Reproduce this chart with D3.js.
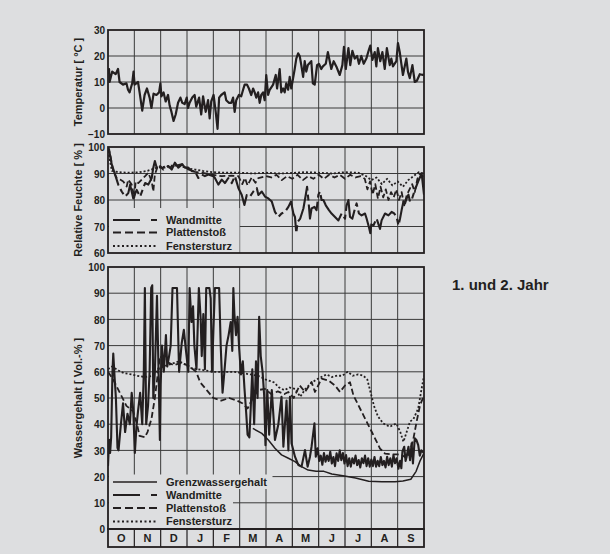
<!DOCTYPE html>
<html>
<head>
<meta charset="utf-8">
<script src="https://cdn.jsdelivr.net/npm/d3@7"></script>
<style>
html,body{margin:0;padding:0;background:#dddee0;}
svg{display:block;}
text{font-family:"Liberation Sans",Arial,Helvetica,sans-serif;font-weight:bold;fill:#231f20;}
</style>
</head>
<body>
<svg id="chart" width="610" height="554"></svg>
<script>
// ---------- DATA ----------
const monthLabels = ["O","N","D","J","F","M","A","M","J","J","A","S"];
const tempTicks = [-10,0,10,20,30];
const humTicks = [60,70,80,90,100];
const waterTicks = [0,10,20,30,40,50,60,70,80,90,100];
const titleTemp = "Temperatur [ °C ]";
const titleHum = "Relative Feuchte  [ % ]";
const titleWater = "Wassergehalt  [ Vol.-% ]";
const sideNote = "1. und 2. Jahr";
const legendHum = ["Wandmitte","Plattenstoß","Fenstersturz"];
const legendWater = ["Grenzwassergehalt","Wandmitte","Plattenstoß","Fenstersturz"];

// [month position (0 = start of Oct), value]
const temperature = [
[0,13],[0.04,15],[0.06,10],[0.16,14],[0.29,13],[0.38,15],[0.44,10],[0.57,9],[0.70,9.5],[0.76,7],[0.82,6],[0.92,9.5],[0.97,14],
[1.01,9],[1.14,10],[1.20,6],[1.30,-1],[1.39,5],[1.48,7.5],[1.58,4],[1.65,0],[1.73,5.5],[1.84,5],[1.94,6],[1.99,9.5],
[2.03,4.5],[2.11,6],[2.19,2.5],[2.28,5],[2.34,1],[2.41,-1.5],[2.49,-5],[2.57,-2.5],[2.66,2],[2.75,4],[2.82,2],[2.91,1.5],[2.99,4],
[3.04,0],[3.10,2],[3.20,4],[3.29,5],[3.35,0.5],[3.46,4],[3.54,-2.5],[3.61,4.5],[3.71,-1.5],[3.80,3],[3.86,-4],[3.92,2.5],
[4.01,5],[4.09,-1.5],[4.16,-8],[4.22,4],[4.30,5],[4.43,6],[4.49,3],[4.59,2],[4.68,2],[4.75,4],[4.81,-1.5],[4.87,3],[4.97,5],
[5.06,4.5],[5.13,7],[5.19,9],[5.28,9],[5.35,7.5],[5.44,5],[5.51,7.5],[5.57,6],[5.63,4],[5.70,6],[5.76,2],[5.82,5],[5.89,6],[5.95,3],
[6.01,12.7],[6.08,5],[6.14,7],[6.27,9],[6.37,12.7],[6.42,7.5],[6.52,15],[6.58,6],[6.65,7.5],[6.71,6],[6.77,9.5],[6.84,7],[6.90,12],[6.96,7.5],
[7.03,11.5],[7.09,15],[7.15,19],[7.22,21],[7.28,20],[7.34,16.5],[7.41,12],[7.47,18],[7.53,14],[7.59,16.5],[7.72,18],[7.78,9.5],[7.85,9],[7.94,16.5],
[8.01,17],[8.10,15],[8.16,16],[8.27,17],[8.35,21.5],[8.42,18],[8.48,15],[8.57,18],[8.67,16],[8.80,12.7],[8.90,16.5],[8.96,23.5],
[9.03,15],[9.13,23],[9.20,16.5],[9.28,22],[9.37,19],[9.46,20],[9.53,17],[9.62,20],[9.71,17],[9.81,19],[9.91,22.5],[9.96,24],
[10.04,18.5],[10.13,21.5],[10.19,16],[10.25,23],[10.34,18],[10.42,21.5],[10.51,15],[10.59,23],[10.70,16.5],[10.76,19],[10.82,16],[10.95,18],
[11.01,25],[11.08,21.5],[11.14,17],[11.20,12.7],[11.33,19],[11.39,14],[11.46,11.5],[11.56,16.5],[11.65,10],[11.73,10.5],[11.84,13],[11.96,12.7],[12,13]
];

const humWandmitte = [
[0,100],[0.04,99],[0.14,93.5],[0.27,89.6],[0.39,85.8],[0.52,83.2],[0.65,81.3],[0.77,82.6],[0.84,85.8],[0.96,80.6],[1.09,83.8],[1.22,81.3],
[1.41,86.4],[1.53,85.8],[1.66,88.3],[1.72,92.2],[1.78,94.7],[1.85,92.2],[1.91,93.5],[2.1,91.5],[2.29,92.8],[2.42,91.5],[2.54,94.1],[2.67,92.2],
[2.82,93.5],[2.92,92.2],[3.05,92.2],[3.18,90.9],[3.3,90.9],[3.43,88.3],[3.56,89.6],[3.68,89],[3.81,89.6],[4.0,89],[4.06,88.3],[4.19,85.8],
[4.32,87.7],[4.44,86.4],[4.57,88.3],[4.7,86.4],[4.82,89],[4.95,84.5],[5.08,81.9],[5.18,78.1],[5.27,81.9],[5.39,81.3],[5.52,83.2],[5.65,84.5],
[5.71,81.9],[5.84,83.2],[5.96,81.3],[6.09,80.6],[6.22,79.4],[6.34,75.5],[6.47,73.6],[6.59,74.9],[6.72,75.5],[6.85,77.4],[6.95,79.4],[7.04,74.9],
[7.1,73.6],[7.15,67.5],[7.2,71.7],[7.3,73],[7.42,76.8],[7.5,81.3],[7.56,85],[7.61,80],[7.67,73],[7.73,76.8],[7.84,77.4],[7.92,76.2],[7.99,82],
[8.05,83.2],[8.11,80],[8.18,80],[8.27,78],[8.39,76.2],[8.49,74.9],[8.62,73.6],[8.75,72.3],[8.87,74.9],[9.0,73],[9.06,78],[9.13,80],[9.19,73.6],
[9.28,73],[9.38,76.8],[9.44,78.7],[9.53,74.9],[9.63,74.2],[9.76,74.9],[9.82,73],[9.91,69.7],[9.96,67.5],[10.01,71.7],[10.08,70.4],[10.2,73],
[10.33,69.1],[10.39,72.3],[10.52,74.9],[10.65,74.2],[10.77,75.5],[10.87,74.9],[10.96,73.6],[11.03,70.4],[11.09,73],[11.15,76.2],[11.22,79.4],
[11.28,78.7],[11.34,80.6],[11.41,82],[11.47,79.4],[11.53,80],[11.66,84],[11.78,87],[11.91,90],[12,82]
];

const humPlattenstoss = [
[0,100],[0.08,97.3],[0.2,90.9],[0.33,88.3],[0.46,87.7],[0.58,87],[0.71,85.1],[0.77,87.7],[0.9,85.8],[1.0,81],[1.05,87],[1.15,86.4],[1.28,87.7],
[1.41,89],[1.53,90.3],[1.66,87],[1.72,83.2],[1.78,89.6],[1.89,92.8],[2.04,92.2],[2.29,92.2],[2.54,92.8],[2.8,93.5],[3.05,91.5],[3.3,90.6],
[3.56,90.3],[3.94,89.6],[4.32,89],[4.7,89.2],[4.95,89],[5.1,86],[5.2,88.3],[5.3,85.5],[5.46,88.6],[5.6,86.5],[5.71,88.3],[6.0,89],
[6.2,88.5],[6.4,89.5],[6.6,87.5],[6.8,89],[7.0,88],[7.2,89.5],[7.4,87.5],[7.6,89],[7.8,88],[8.0,89.5],[8.2,88],[8.4,89.5],[8.6,88.5],
[8.8,89.5],[9.0,88],[9.2,89.5],[9.4,88.5],[9.6,89],[9.75,88],[9.85,84],[9.95,87],[10.05,82],[10.15,86],[10.25,80.5],[10.35,85],[10.45,81],
[10.55,84],[10.65,80],[10.75,83],[10.85,81],[10.95,84],[11.05,80],[11.15,83],[11.25,78],[11.35,82],[11.45,84],[11.55,86],[11.65,83],
[11.75,88],[11.85,90],[11.95,89],[12,88]
];

const humFenstersturz = [
[0,100],[0.05,96],[0.15,91],[0.4,90.5],[0.8,90.3],[1.2,90.5],[1.5,91],[1.8,92],[2.1,92.5],[2.4,93],[2.7,93],[3.0,92],[3.3,91.5],[3.6,91],
[4.0,90.5],[4.5,90.3],[5.0,90.3],[5.5,90],[6.0,90.3],[6.5,90],[7.0,90.2],[7.5,90.5],[8.0,90.3],[8.5,90],[9.0,90.5],[9.5,90.3],[9.8,89],
[10.0,87.5],[10.2,88.5],[10.4,86],[10.6,88],[10.8,85.5],[11.0,87],[11.2,85],[11.4,87.5],[11.6,89],[11.8,90.5],[12,90]
];

const waterGrenz = [
[5.5,38.4],[5.84,36.5],[6.09,34],[6.34,30.8],[6.59,28.3],[6.85,27],[7.1,25.7],[7.35,23.8],[7.6,22.5],[7.9,22],[8.2,22],[8.5,21],
[8.98,20.2],[9.4,19.5],[9.9,18.2],[10.4,18],[10.9,18],[11.2,18.3],[11.5,19],[11.7,22],[11.85,26],[12,29]
];

const waterWandmitte = [
[0.00,24],[0.04,34],[0.08,29],[0.12,35],[0.17,60],[0.2,67],[0.25,58],[0.3,50],[0.36,31],[0.4,30],[0.48,39],[0.57,48],[0.65,37],[0.74,44],
[0.83,40],[0.9,52],[0.96,45],[1.02,29],[1.08,39],[1.14,45],[1.22,52],[1.3,40],[1.36,60],[1.4,92],[1.45,40],[1.52,47],[1.58,60],[1.64,92],
[1.68,93],[1.72,50],[1.78,60],[1.86,89],[1.92,60],[1.97,34],[2.0,55],[2.05,70],[2.12,60],[2.2,74],[2.25,62],[2.32,66],[2.38,70],[2.45,92],
[2.62,92],[2.7,60],[2.8,71],[2.88,76],[2.95,69],[3.05,60],[3.1,92],[3.17,79],[3.23,85],[3.28,70],[3.36,61],[3.45,92],[3.52,80],[3.56,66],
[3.62,82],[3.68,61],[3.73,92],[3.85,92],[3.9,88],[3.95,60],[4.0,75],[4.06,92],[4.22,92],[4.28,70],[4.35,52],[4.42,60],[4.5,70],[4.58,74],
[4.66,79],[4.72,68],[4.76,92],[4.8,82],[4.86,74],[4.92,81],[4.98,69],[5.05,59],[5.12,64],[5.18,54],[5.25,44],[5.3,36],[5.37,35],[5.42,46],
[5.48,61],[5.55,40],[5.62,64],[5.68,50],[5.74,81],[5.8,66],[5.87,60],[5.93,51],[5.98,32],[6.05,53],[6.12,36],[6.22,53],[6.34,34],[6.47,40],
[6.59,50.5],[6.66,31.4],[6.78,49],[6.85,30],[6.91,50.5],[6.97,32.7],[7.1,27.6],[7.23,24.4],[7.35,23.8],[7.48,30.1],[7.58,23.8],[7.67,27.6],
[7.73,31.4],[7.84,40.3],[7.89,27.6],[7.96,30.8],[8.02,26],[8.08,28],[8.14,24.5],[8.2,29],[8.26,25.7],[8.32,28],[8.38,26],[8.44,29.5],[8.5,25],
[8.56,27.5],[8.62,24],[8.68,28.9],[8.74,26],[8.8,30],[8.86,26.3],[8.92,29],[8.98,25],[9.04,28.2],[9.1,24],[9.16,27],[9.22,23.8],[9.28,27],
[9.34,25],[9.4,28],[9.46,24.4],[9.52,26.3],[9.58,23.5],[9.64,27],[9.7,25.1],[9.76,28],[9.82,24],[9.88,27],[9.94,23.8],[10.0,26.5],[10.06,24],
[10.12,27.5],[10.18,23.8],[10.24,26],[10.3,24],[10.36,27.5],[10.42,24.4],[10.48,26],[10.54,23.5],[10.6,27.6],[10.66,24.4],[10.72,27],[10.78,23.8],
[10.84,28.2],[10.9,25.1],[10.96,27],[11.03,23],[11.09,26],[11.14,23.2],[11.18,29.5],[11.25,31.4],[11.3,26],[11.34,27.6],[11.41,31.4],[11.47,26.3],
[11.53,32.7],[11.58,25],[11.65,34.6],[11.71,34],[11.78,32],[11.84,28],[11.9,30],[12,29]
];

const waterPlattenstoss = [
[0,60],[0.2,57],[0.45,52],[0.7,47],[0.95,45],[1.1,40],[1.2,35.5],[1.4,35],[1.5,37],[1.65,42],[1.78,50],[1.9,60],[1.97,66],[2.2,64],
[2.5,62.5],[2.8,63.5],[3.1,62],[3.35,60],[3.5,56],[3.75,53],[4.0,50],[4.3,49],[4.6,50],[4.9,49],[5.1,48],[5.3,46],[5.5,50],[5.7,53],
[5.96,53.5],[6.2,51.5],[6.45,52.5],[6.7,51.5],[6.85,52.3],[7.05,50],[7.28,54.8],[7.48,52.3],[7.73,56.1],[7.86,52.3],[8.11,57.4],[8.37,56.7],
[8.62,54.8],[8.81,52.3],[9.0,54.8],[9.19,56],[9.32,51],[9.57,46],[9.82,41],[10.08,35.8],[10.33,30.7],[10.52,28.8],[10.8,28.5],[11.0,28.5],
[11.2,28],[11.35,27],[11.47,29.5],[11.6,34.6],[11.72,41],[11.85,47.3],[12,51]
];

const waterFenstersturz = [
[0,61],[0.15,62],[0.4,60.5],[0.6,59.5],[0.9,59],[1.1,58.5],[1.4,58],[1.7,58.5],[1.9,61],[2.1,62],[2.4,63],[2.7,64],[2.9,63],[3.1,61.5],
[3.4,61],[3.7,60.5],[4.0,60],[4.4,60],[4.8,60],[5.1,59.5],[5.4,59],[5.7,58.5],[6.0,57],[6.3,56],[6.5,54],[6.7,53],[6.9,54],[7.1,53.5],
[7.3,50.5],[7.5,53.5],[7.7,55.5],[7.9,57],[8.1,58],[8.3,59],[8.5,58],[8.7,58.5],[8.9,58.5],[9.1,60],[9.3,58.5],[9.5,59],[9.7,58.5],
[9.85,57],[9.95,53],[10.1,47],[10.25,43],[10.45,40.3],[10.7,39],[10.95,40.3],[11.1,37],[11.22,33.3],[11.34,37],[11.47,41],[11.6,42],
[11.78,46],[11.9,53],[12,58.5]
];

// ---------- LAYOUT ----------
const BG = "#dddee0", INK = "#231f20", GRID = "#3a3a3a";
const svg = d3.select("#chart");
svg.append("rect").attr("width",610).attr("height",554).attr("fill",BG);

const x = d3.scaleLinear().domain([0,12]).range([108,424]);
const monthTicks = d3.range(1,12);

const panels = [
  {id:"t", y:d3.scaleLinear().domain([-10,30]).range([134,30]), ticks:tempTicks, title:titleTemp},
  {id:"h", y:d3.scaleLinear().domain([60,100]).range([253,147]), ticks:humTicks, title:titleHum},
  {id:"w", y:d3.scaleLinear().domain([0,100]).range([529,267]), ticks:waterTicks, title:titleWater}
];

const defs = svg.append("defs");
panels.forEach(p=>{
  const [y0,y1] = p.y.range();
  defs.append("clipPath").attr("id","clip-"+p.id).append("rect")
    .attr("x",x(0)).attr("y",y1).attr("width",x(12)-x(0)).attr("height",y0-y1);
  const g = svg.append("g");
  // horizontal gridlines
  g.selectAll("line.hg").data(p.ticks.slice(1,-1)).join("line")
    .attr("x1",x(0)).attr("x2",x(12)).attr("y1",d=>p.y(d)).attr("y2",d=>p.y(d))
    .attr("stroke",GRID).attr("stroke-width",1);
  // vertical gridlines
  g.selectAll("line.vg").data(monthTicks).join("line")
    .attr("x1",d=>x(d)).attr("x2",d=>x(d)).attr("y1",y1).attr("y2",y0)
    .attr("stroke",GRID).attr("stroke-width",1);
  // tick labels via axis
  const ax = svg.append("g").attr("transform",`translate(${x(0)-3},0)`)
    .call(d3.axisLeft(p.y).tickValues(p.ticks).tickSize(0).tickPadding(0).tickFormat(d3.format("d")));
  ax.select(".domain").remove();
  ax.selectAll("text").attr("font-size",10).attr("font-family","Liberation Sans, Arial, sans-serif")
    .attr("font-weight","bold").attr("fill",INK).attr("dy","0.36em");
  // title
  const cy = (y0+y1)/2;
  svg.append("text").attr("transform",`translate(82,${cy}) rotate(-90)`)
    .attr("text-anchor","middle").attr("font-size",11).text(p.title);
  p.g = svg.append("g").attr("clip-path",`url(#clip-${p.id})`);
});

function drawLine(p, data, width, dash){
  const line = d3.line().x(d=>x(d[0])).y(d=>p.y(d[1]));
  p.g.append("path").datum(data).attr("d",line).attr("fill","none")
    .attr("stroke",INK).attr("stroke-width",width).attr("stroke-linejoin","round")
    .attr("stroke-dasharray",dash||null);
}

const DASH_W = "40,4,6,4", DASH_P = "6,3", DASH_F = "2,2";
// Temperature
drawLine(panels[0], temperature, 2.2);
// Humidity
drawLine(panels[1], humFenstersturz, 1.8, DASH_F);
drawLine(panels[1], humPlattenstoss, 1.8, DASH_P);
drawLine(panels[1], humWandmitte, 2.1, DASH_W);
// Water content
drawLine(panels[2], waterFenstersturz, 1.8, DASH_F);
drawLine(panels[2], waterPlattenstoss, 1.8, DASH_P);
drawLine(panels[2], waterGrenz, 1.5);
drawLine(panels[2], waterWandmitte, 2.1);

// ---------- LEGENDS ----------
const legStyles = {
  "Grenzwassergehalt":{w:1.6, dash:null},
  "Wandmitte":{w:2, dash:"27,11,6,50"},
  "Plattenstoß":{w:2, dash:"8,4"},
  "Fenstersturz":{w:1.8, dash:"2,2.5"}
};
function legend(items, rows, bgRects){
  bgRects.forEach(r=>svg.append("rect").attr("x",r[0]).attr("y",r[1]).attr("width",r[2]-r[0]).attr("height",r[3]-r[1]).attr("fill",BG));
  items.forEach((name,i)=>{
    const yy = rows[i];
    const s = legStyles[name];
    svg.append("line").attr("x1",113).attr("x2",157).attr("y1",yy).attr("y2",yy)
      .attr("stroke",INK).attr("stroke-width",s.w).attr("stroke-dasharray",s.dash);
    svg.append("text").attr("x",166).attr("y",yy).attr("dy","0.36em").attr("font-size",11).text(name);
  });
}
legend(legendHum, [220,232.5,246], [[109,208,239.5,252.5]]);
legend(legendWater, [482,495,508,521.5], [[109,474.5,272.5,489],[109,489,233,528.5]]);

// ---------- BORDERS ----------
panels.forEach(p=>{
  const [y0,y1] = p.y.range();
  svg.append("rect").attr("x",x(0)).attr("y",y1).attr("width",x(12)-x(0)).attr("height",y0-y1)
    .attr("fill","none").attr("stroke",INK).attr("stroke-width",1.8);
});
// month row
const mRowTop = 529, mRowBot = 547;
svg.append("rect").attr("x",x(0)).attr("y",mRowTop).attr("width",x(12)-x(0)).attr("height",mRowBot-mRowTop)
  .attr("fill","none").attr("stroke",INK).attr("stroke-width",1.8);
svg.selectAll("line.ms").data(monthTicks).join("line")
  .attr("x1",d=>x(d)).attr("x2",d=>x(d)).attr("y1",mRowTop).attr("y2",mRowBot)
  .attr("stroke",INK).attr("stroke-width",1.2);
svg.selectAll("text.ml").data(monthLabels).join("text")
  .attr("x",(d,i)=>x(i+0.5)).attr("y",(mRowTop+mRowBot)/2).attr("dy","0.36em")
  .attr("text-anchor","middle").attr("font-size",11).text(d=>d);

svg.append("text").attr("x",452).attr("y",290).attr("font-size",15).text(sideNote);
</script>
</body>
</html>
